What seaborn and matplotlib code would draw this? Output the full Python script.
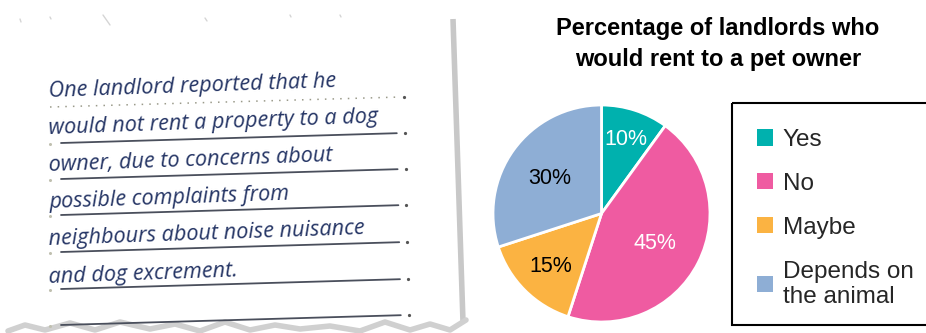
import matplotlib
matplotlib.use("Agg")
import matplotlib.pyplot as plt
from matplotlib.patches import Patch, Rectangle
import seaborn as sns
import numpy as np

# ---- data ----
categories = ["Yes", "No", "Maybe", "Depends on\nthe animal"]
percentages = [10, 45, 15, 30]
pct_labels = ["10%", "45%", "15%", "30%"]
title_text = "Percentage of landlords who\nwould rent to a pet owner"
note_lines = [
    "One landlord reported that he",
    "would not rent a property to a dog",
    "owner, due to concerns about",
    "possible complaints from",
    "neighbours about noise nuisance",
    "and dog excrement.",
]

# ---- style ----
sns.set_theme(style="white")
plt.rcParams["font.family"] = ["Liberation Sans", "DejaVu Sans"]
palette = sns.color_palette(["#00B1AE", "#EF5BA1", "#FBB342", "#8EAED5"])
label_colors = ["white", "white", "black", "black"]
label_radii = [0.74, 0.55, 0.66, 0.59]

W, H = 926, 333
fig = plt.figure(figsize=(W / 100, H / 100), dpi=100)
fig.patch.set_facecolor("white")

# background axes in pixel coordinates (notepad decoration)
bg = fig.add_axes([0, 0, 1, 1])
bg.set_xlim(0, W)
bg.set_ylim(H, 0)
bg.axis("off")

# right paper edge shadow
bg.plot([453, 463], [19, 322], color="#c8c8c8", lw=4, solid_capstyle="butt")
# torn bottom edge
xs = np.array([8, 25, 45, 70, 95, 120, 150, 175, 200, 225, 250, 275, 300, 330,
               360, 385, 410, 430, 450, 466])
ys = np.array([331, 325, 330, 323, 330, 322, 329, 324, 331, 322, 330, 325, 329,
               326, 331, 322, 330, 324, 330, 320])
bg.plot(xs, ys, color="#d0d0d0", lw=4, solid_joinstyle="round")
# faint marks on the top torn edge
for (x0, y0, x1, y1) in [(20, 19, 21, 22), (50, 17, 51, 19), (103, 15, 110, 25),
                         (205, 18, 207, 21), (290, 15, 291, 17), (340, 15, 341, 17)]:
    bg.plot([x0, x1], [y0, y1], color="#d5d5d5", lw=1.0)

# ruled lines
left_y = [107, 143, 179, 215, 252, 289, 325]
for i, ly in enumerate(left_y):
    xl, xr = (50, 401 + i * 0.8)
    ry = ly - 10
    if i == 0:
        bg.plot([xl, xr], [ly, ry], color="#9a9a8a", lw=1.1, ls=(0, (1, 4)))
    else:
        bg.plot([xl + 11, xr - 5], [ly, ry + 0.2], color="#4a4f5c", lw=1.3)
        bg.plot([xl], [ly + 0.5], marker="o", ms=1.2, color="#c0c0b0")
    bg.plot([xr + 3], [ry], marker="o", ms=1.3, color="#555555")

# handwritten note text
baselines = [97, 134, 171, 208, 245, 283]
for line, by in zip(note_lines, baselines):
    bg.text(49, by, line, fontsize=15.6, color="#253565",
            family=["Open Sans", "DejaVu Sans"], style="italic",
            rotation=2.0, rotation_mode="anchor", ha="left", va="baseline")

# title
fig.text(718 / W, 1 - 44 / H, title_text, ha="center", va="center",
         fontsize=17, fontweight="bold", linespacing=1.42, color="black")

# pie
cx, cy, r = 601.5, 213.5, 108.5
pax = fig.add_axes([(cx - r) / W, 1 - (cy + r) / H, 2 * r / W, 2 * r / H])
wedges, _ = pax.pie(percentages, colors=palette, startangle=90, counterclock=False,
                    wedgeprops=dict(edgecolor="white", linewidth=2))
pax.set_aspect("equal")
pax.set_xlim(-1, 1)
pax.set_ylim(-1, 1)

for w, lab, col, rr in zip(wedges, pct_labels, label_colors, label_radii):
    ang = np.deg2rad((w.theta1 + w.theta2) / 2)
    pax.text(rr * np.cos(ang), rr * np.sin(ang), lab, ha="center",
             va="center_baseline", fontsize=15.5, color=col)

# legend frame (extends past the right edge, as in the reference)
bg.add_patch(Rectangle((732, 103), 220, 222, fill=False, edgecolor="black",
                       lw=1.5))

# legend
handles = [Patch(facecolor=c, edgecolor="none") for c in palette]
leg = fig.legend(handles, categories, loc="upper left",
                 bbox_to_anchor=(757 / W, 1 - 129 / H),
                 fontsize=17.5, frameon=False,
                 handlelength=0.65, handleheight=0.65, handletextpad=0.4,
                 labelspacing=0.9, borderpad=0, borderaxespad=0)
for t in leg.get_texts():
    t.set_linespacing(1.17)

fig.savefig("out.png", dpi=100, facecolor="white")
